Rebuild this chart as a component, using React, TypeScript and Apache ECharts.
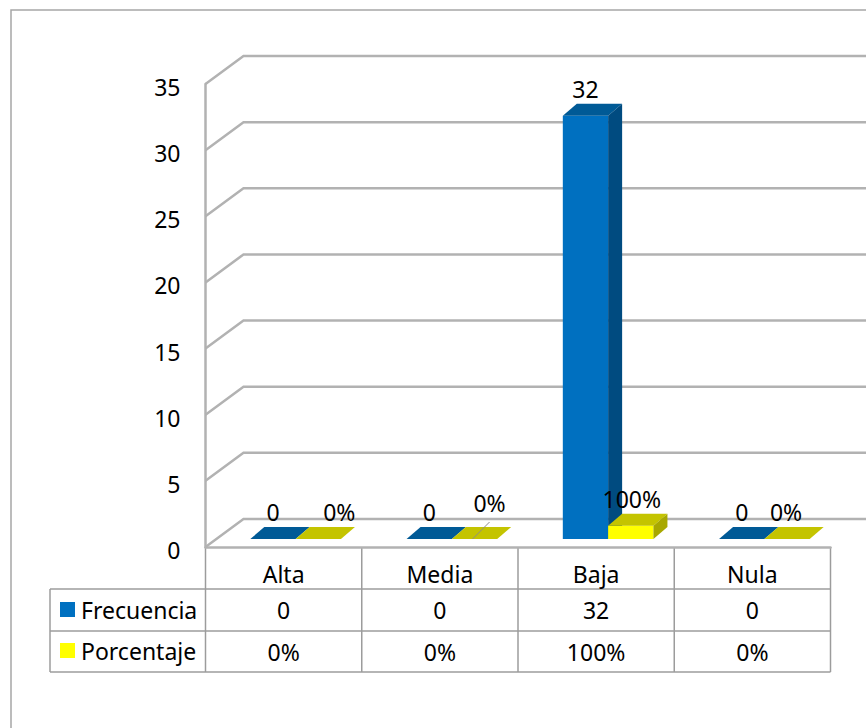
import React, { useEffect, useRef } from "react";
import * as echarts from "echarts";

const categories = ["Alta", "Media", "Baja", "Nula"];
const frecuencia = [0, 0, 32, 0];
const porcentaje = [0, 0, 1, 0];
const frecuenciaLabels = ["0", "0", "32", "0"];
const porcentajeLabels = ["0%", "0%", "100%", "0%"];
const yTicks = [0, 5, 10, 15, 20, 25, 30, 35];

const FONT = "Noto Sans";
const FS = 23;
const GRID = { left: 205.5, top: 84, width: 625, height: 463 };
const WALL = { dx: 38, dy: -28 };
const LINE = "#b2b2b2";
const TABLE_LINE = "#9c9c9c";
const ROW_Y = [589, 631, 672];

// manual label placement (px) relative to the bar top centre, [dx, dy]
const freqNudge = [[0, -27], [0, -27], [0, -27], [0, -27]];
const pctNudge = [[21, -27], [15, -36], [1, -27], [-1, -27]];

const blue = { front: "#0070c0", top: "#005a96", side: "#004b80" };
const yellow = { front: "#ffff00", top: "#c4c400", side: "#a8a800" };

function barRender(colors: any, offset: number, labels: string[], nudge: number[][]) {
  return (params: any, api: any) => {
    const i = api.value(0);
    const v = api.value(1);
    const base = api.coord([i, 0]);
    const top = api.coord([i, v]);
    const w = api.size([1, 0])[0] * 0.29;
    const d = 14;
    const h = 12;
    const x = base[0] + 12 + offset * w;
    const y0 = base[1] - 8;
    const y1 = top[1] - 8;
    const n = nudge[i];
    const cx = x + w / 2;
    const children: any[] = [
      { type: "rect", shape: { x, y: y1, width: w, height: y0 - y1 }, style: { fill: colors.front } },
      {
        type: "polygon",
        shape: { points: [[x, y1], [x + d, y1 - h], [x + w + d, y1 - h], [x + w, y1]] },
        style: { fill: colors.top },
      },
      {
        type: "polygon",
        shape: { points: [[x + w, y1], [x + w + d, y1 - h], [x + w + d, y0 - h], [x + w, y0]] },
        style: { fill: colors.side },
      },
    ];
    if (labels === porcentajeLabels && i === 1) {
      children.push({
        type: "line",
        shape: { x1: cx + 15, y1: y1 - 17, x2: cx - 2, y2: y0 },
        style: { stroke: "#8c8c8c", lineWidth: 1 },
      });
    }
    children.push({
      type: "text",
      x: cx + n[0],
      y: y1 + n[1],
      style: { text: labels[i], font: `${FS}px ${FONT}`, fill: "#000", align: "center", verticalAlign: "middle" },
    });
    return { type: "group", children };
  };
}

const wallRender = (params: any, api: any) => {
  const cs = params.coordSys;
  const y = api.coord([0, api.value(0)])[1];
  return {
    type: "polyline",
    shape: {
      points: [
        [cs.x, y],
        [cs.x + WALL.dx, y + WALL.dy],
        [cs.x + cs.width + WALL.dx, y + WALL.dy],
      ],
    },
    style: { stroke: LINE, lineWidth: 2.5, fill: "none" },
  };
};

const tableRender = (row: number, labels: string[]) => (params: any, api: any) => {
  const i = api.value(0);
  const x = api.coord([i, 0])[0];
  return {
    type: "text",
    x,
    y: (ROW_Y[row] + ROW_Y[row + 1]) / 2,
    style: { text: labels[i], font: `${FS}px ${FONT}`, fill: "#000", align: "center", verticalAlign: "middle" },
  };
};

const tableLine = (x1: number, y1: number, x2: number, y2: number) => ({
  type: "line",
  silent: true,
  shape: { x1, y1, x2, y2 },
  style: { stroke: TABLE_LINE, lineWidth: 1.5 },
});

export default function App() {
  const ref = useRef<HTMLDivElement>(null);
  useEffect(() => {
    document.body.style.margin = "0";
    const chart = echarts.init(ref.current!, undefined, { renderer: "svg" });
    const right = GRID.left + GRID.width;
    const step = GRID.width / categories.length;
    const verticals = [0, 1, 2, 3, 4].map((k) =>
      tableLine(GRID.left + k * step, GRID.top + GRID.height, GRID.left + k * step, ROW_Y[2])
    );
    const horizontals = ROW_Y.map((y) => tableLine(50, y, right, y));
    chart.setOption({
      animation: false,
      backgroundColor: "#ffffff",
      textStyle: { fontFamily: FONT },
      grid: { ...GRID, containLabel: false },
      legend: {
        orient: "vertical",
        left: 60,
        top: 598,
        itemWidth: 15,
        itemHeight: 15,
        itemGap: 18,
        icon: "rect",
        selectedMode: false,
        padding: 0,
        data: ["Frecuencia", "Porcentaje"],
        textStyle: { fontFamily: FONT, fontSize: FS, color: "#000", padding: [0, 0, 0, 1] },
      },
      graphic: [
        { type: "polyline", silent: true, shape: { points: [[11, 728], [11, 10], [866, 10]] }, style: { stroke: "#a6a6a6", lineWidth: 1.5, fill: "none" } },
        ...verticals,
        ...horizontals,
        tableLine(50, ROW_Y[0], 50, ROW_Y[2]),
      ],
      xAxis: {
        type: "category",
        data: categories,
        axisTick: { show: false },
        axisLine: { show: true, lineStyle: { color: LINE, width: 2.5 } },
        axisLabel: { fontFamily: FONT, fontSize: FS, color: "#000", margin: 15, interval: 0 },
        splitLine: { show: false },
      },
      yAxis: {
        type: "value",
        min: 0,
        max: 35,
        interval: 5,
        axisTick: { show: false },
        axisLine: { show: true, lineStyle: { color: LINE, width: 2.5 } },
        axisLabel: { fontFamily: FONT, fontSize: FS, color: "#000", margin: 25, verticalAlign: "top", lineHeight: 6 },
        splitLine: { show: false },
      },
      series: [
        {
          type: "custom",
          name: "paredes",
          silent: true,
          z: 1,
          renderItem: wallRender,
          data: yTicks.map((t) => [t]),
          encode: { y: 0 },
        },
        {
          type: "custom",
          name: "Frecuencia",
          z: 3,
          itemStyle: { color: blue.front },
          renderItem: barRender(blue, -1, frecuenciaLabels, freqNudge),
          data: frecuencia.map((v, i) => [i, v]),
          encode: { x: 0, y: 1 },
        },
        {
          type: "custom",
          name: "Porcentaje",
          z: 4,
          itemStyle: { color: yellow.front },
          renderItem: barRender(yellow, 0, porcentajeLabels, pctNudge),
          data: porcentaje.map((v, i) => [i, v]),
          encode: { x: 0, y: 1 },
        },
        {
          type: "custom",
          name: "tablaFrecuencia",
          silent: true,
          z: 5,
          renderItem: tableRender(0, frecuenciaLabels),
          data: frecuencia.map((v, i) => [i, v]),
          encode: { x: 0, y: 1 },
        },
        {
          type: "custom",
          name: "tablaPorcentaje",
          silent: true,
          z: 5,
          renderItem: tableRender(1, porcentajeLabels),
          data: porcentaje.map((v, i) => [i, v]),
          encode: { x: 0, y: 1 },
        },
      ],
    });
    return () => chart.dispose();
  }, []);
  return <div ref={ref} style={{ width: 866, height: 728 }} />;
}
